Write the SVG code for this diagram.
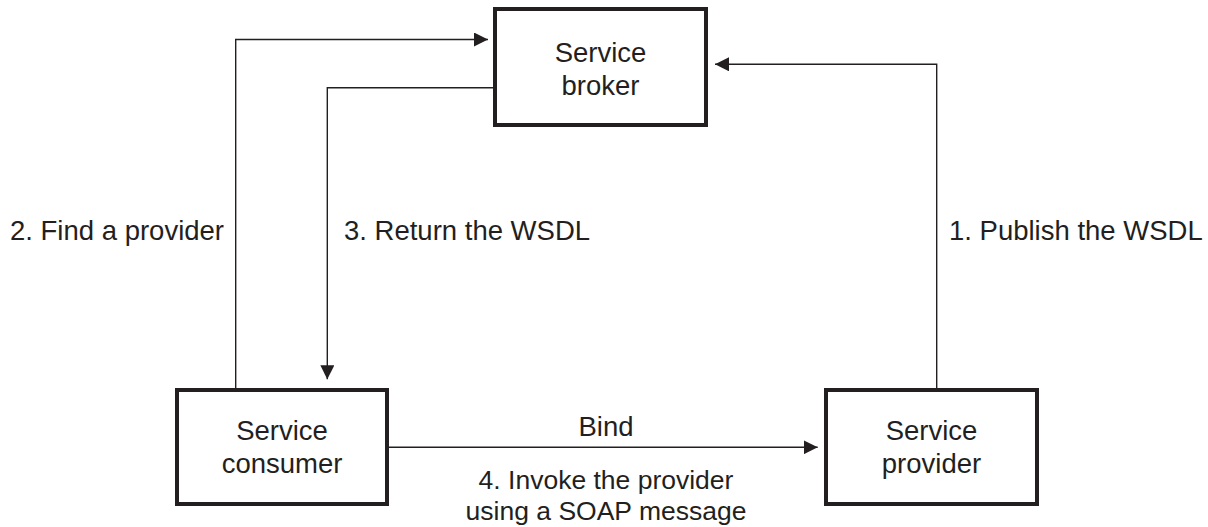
<svg xmlns="http://www.w3.org/2000/svg" width="1208" height="527" viewBox="0 0 1208 527">
  <style>
    .box { fill: #ffffff; stroke: #231f20; stroke-width: 4; }
    .conn { fill: none; stroke: #231f20; stroke-width: 1.4; }
    text { font-family: "Liberation Sans", Arial, Helvetica, sans-serif; font-size: 27.5px; fill: #231f20; }
    .c { text-anchor: middle; }
    .s { font-size: 26.5px; }
  </style>
  <defs>
    <marker id="arrow" markerUnits="userSpaceOnUse" markerWidth="14" markerHeight="14" viewBox="0 0 13 13" refX="13" refY="6.5" orient="auto">
      <path d="M0,0 L13,6.5 L0,13 Z" fill="#231f20"/>
    </marker>
  </defs>
  <rect width="1208" height="527" fill="#ffffff"/>

  <g id="connectors">
    <path id="publish" class="conn" d="M936.7,388 V64.3 H715" marker-end="url(#arrow)"/>
    <path id="find" class="conn" d="M235.7,388 V39.5 H488" marker-end="url(#arrow)"/>
    <path id="return" class="conn" d="M493,87.7 H327.3 V379.3" marker-end="url(#arrow)"/>
    <path id="bind" class="conn" d="M389,447.3 H817.7" marker-end="url(#arrow)"/>
  </g>

  <g id="broker">
    <rect class="box" x="495" y="9" width="211" height="116"/>
    <text class="c" x="600.5" y="61.5">Service</text>
    <text class="c" x="600.5" y="94.5">broker</text>
  </g>

  <g id="consumer">
    <rect class="box" x="177" y="390" width="210" height="114"/>
    <text class="c" x="282" y="439.5">Service</text>
    <text class="c" x="282" y="473">consumer</text>
  </g>

  <g id="provider">
    <rect class="box" x="826" y="390" width="211" height="114"/>
    <text class="c" x="931.5" y="439.5">Service</text>
    <text class="c" x="931.5" y="473">provider</text>
  </g>

  <g id="labels">
    <text x="10" y="240">2. Find a provider</text>
    <text x="344" y="240">3. Return the WSDL</text>
    <text x="949" y="240">1. Publish the WSDL</text>
    <text class="c" x="606" y="436">Bind</text>
    <text class="c s" x="606" y="489">4. Invoke the provider</text>
    <text class="c s" x="606" y="519.5">using a SOAP message</text>
  </g>
</svg>
